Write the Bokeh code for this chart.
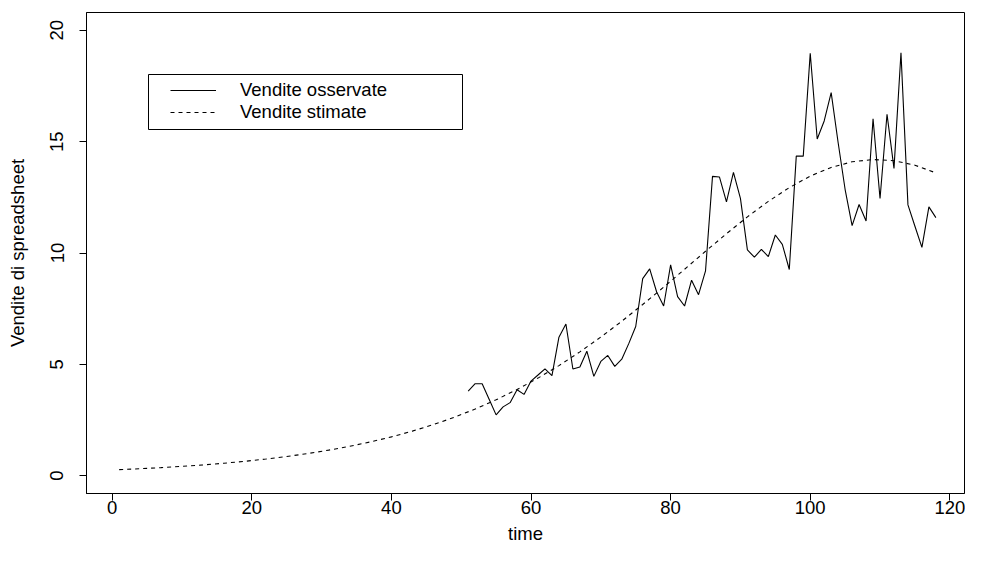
from bokeh.plotting import figure
from bokeh.models import Legend, LegendItem, BoxAnnotation, FixedTicker, Range1d
from bokeh.embed import file_html
from bokeh.resources import INLINE

# Observed sales (time 51..118)
obs_time = list(range(51, 119))
obs_sales = [3.80, 4.13, 4.13, 3.43, 2.73, 3.09, 3.28, 3.86, 3.65, 4.25,
             4.52, 4.80, 4.49, 6.22, 6.81, 4.79, 4.88, 5.59, 4.46, 5.13,
             5.40, 4.91, 5.23, 5.93, 6.70, 8.85, 9.29, 8.25, 7.62, 9.47,
             8.04, 7.62, 8.78, 8.13, 9.20, 13.44, 13.41, 12.30, 13.62, 12.45,
             10.14, 9.81, 10.16, 9.84, 10.81, 10.39, 9.26, 14.35, 14.35, 18.97,
             15.12, 15.93, 17.20, 14.95, 12.85, 11.23, 12.18, 11.44, 16.03, 12.45,
             16.23, 13.80, 18.99, 12.16, 11.20, 10.25, 12.07, 11.59]

# Estimated sales (read every 3 time units)
est_time = list(range(1, 119, 3))
est_sales = [0.270, 0.313, 0.362, 0.419, 0.484, 0.560, 0.646, 0.747, 0.862, 0.994,
             1.146, 1.318, 1.517, 1.743, 2.000, 2.292, 2.620, 2.993, 3.408, 3.868,
             4.382, 4.943, 5.560, 6.225, 6.934, 7.686, 8.465, 9.269, 10.078, 10.865,
             11.623, 12.318, 12.937, 13.453, 13.843, 14.096, 14.198, 14.146, 13.943, 13.597]

x_ticks = [0, 20, 40, 60, 80, 100, 120]
y_ticks = [0, 5, 10, 15, 20]
series_labels = ["Vendite osservate", "Vendite stimate"]
x_title = "time"
y_title = "Vendite di spreadsheet"

FONT = "Liberation Sans"
FS = "18.5px"

p = figure(width=965, height=546,
           x_range=Range1d(-3.68, 122.1), y_range=Range1d(-0.8, 20.8),
           output_backend="svg", toolbar_location=None,
           min_border_left=86, min_border_right=1,
           min_border_top=12, min_border_bottom=53)

p.background_fill_color = "white"
p.border_fill_color = "white"
p.outline_line_color = "black"
p.outline_line_width = 1
p.grid.visible = False

r1 = p.line(obs_time, obs_sales, line_color="black", line_width=1.1)
r2 = p.line(est_time, est_sales, line_color="black", line_width=1.1, line_dash="4 4")

for ax in (p.xaxis[0], p.yaxis[0]):
    ax.axis_line_color = "black"
    ax.major_tick_line_color = "black"
    ax.major_tick_out = 7
    ax.major_tick_in = 0
    ax.minor_tick_out = 0
    ax.minor_tick_in = 0
    ax.major_label_text_font = FONT
    ax.major_label_text_font_size = FS
    ax.major_label_text_color = "black"
    ax.axis_label_text_font = FONT
    ax.axis_label_text_font_size = FS
    ax.axis_label_text_font_style = "normal"
    ax.axis_label_text_color = "black"

p.xaxis[0].ticker = FixedTicker(ticks=x_ticks)
p.yaxis[0].ticker = FixedTicker(ticks=y_ticks)
p.xaxis[0].axis_label = x_title
p.yaxis[0].axis_label = y_title
p.xaxis[0].major_label_standoff = 0
p.xaxis[0].axis_label_standoff = 6
p.yaxis[0].major_label_orientation = "parallel"
p.yaxis[0].major_label_standoff = 16
p.yaxis[0].axis_label_standoff = 20

legend = Legend(items=[LegendItem(label=series_labels[0], renderers=[r1]),
                       LegendItem(label=series_labels[1], renderers=[r2])],
                location=(84, 370), padding=0, spacing=0, margin=0,
                glyph_width=46, glyph_height=20, label_height=20,
                label_standoff=24, border_line_alpha=0,
                background_fill_alpha=0,
                label_text_font=FONT, label_text_font_size=FS,
                label_text_color="black")
p.add_layout(legend)

frame_box = BoxAnnotation(left=62, right=376, top=419, bottom=364,
                          left_units="screen", right_units="screen",
                          top_units="screen", bottom_units="screen",
                          fill_alpha=0, line_color="black", line_alpha=1.0,
                          line_width=1)
p.add_layout(frame_box)

open("out.html", "w").write(file_html(p, INLINE))
